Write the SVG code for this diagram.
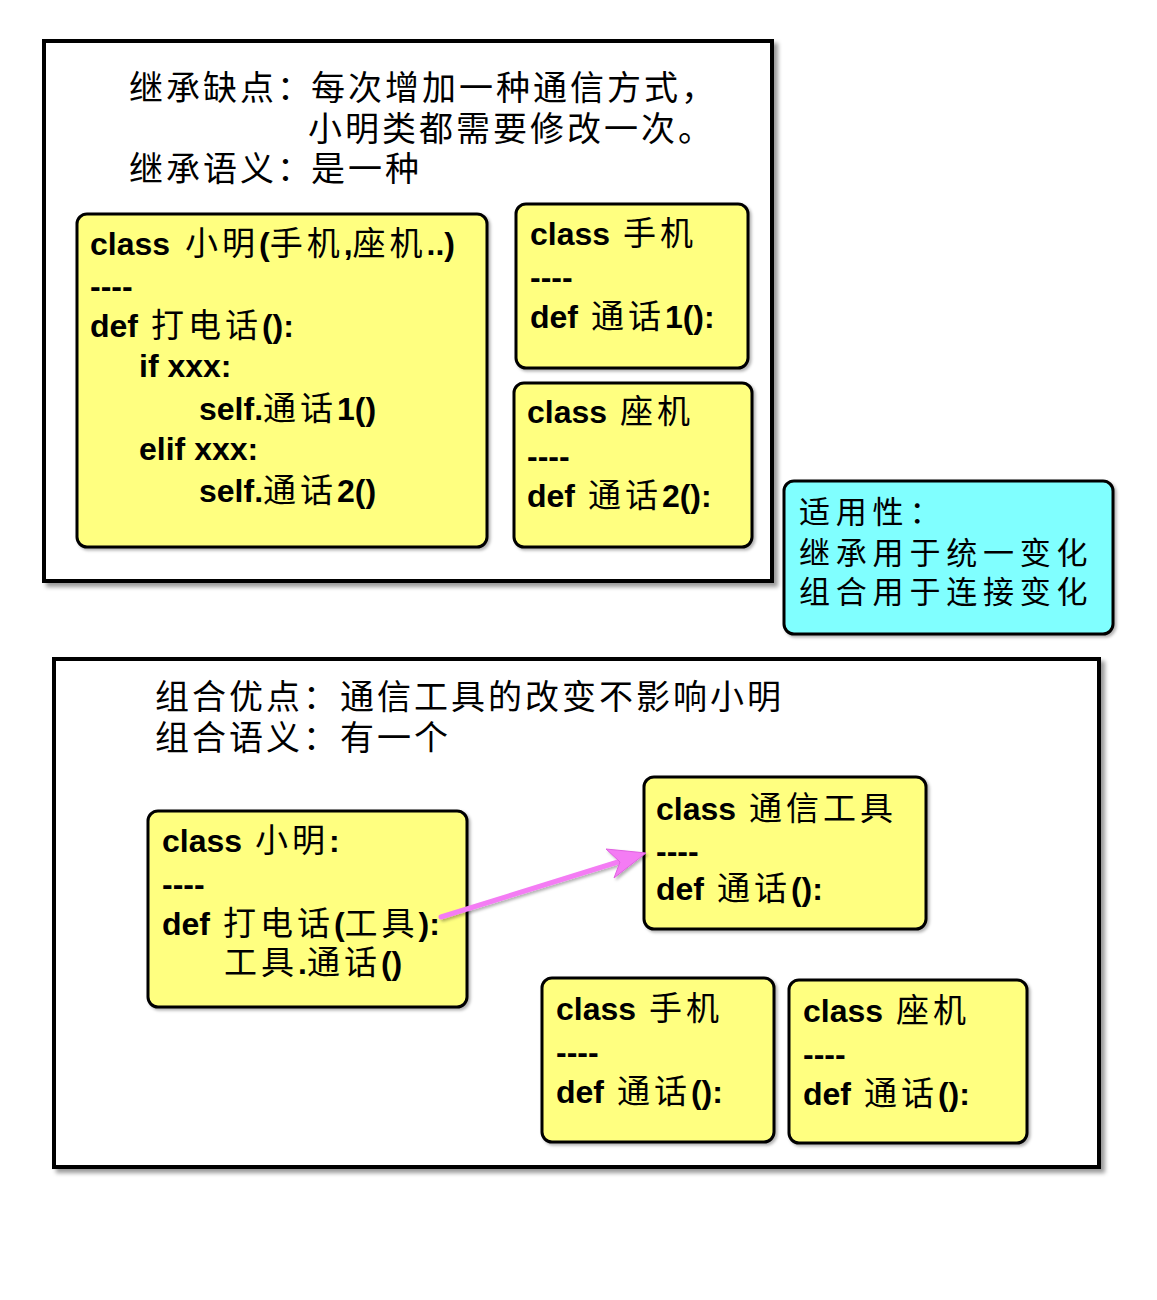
<svg xmlns="http://www.w3.org/2000/svg" width="1157" height="1300" viewBox="0 0 1157 1300">
<defs>
<style>
.frame{fill:#fff;stroke:#000;stroke-width:4}
.box{fill:#FFFF80;stroke:#000;stroke-width:3}
.cyan{fill:#80FFFF;stroke:#000;stroke-width:3}
text{fill:#000}
.t{font-family:"Liberation Sans",Arial,sans-serif;font-weight:bold;font-size:32px}
.k{font-family:"Noto Sans CJK SC","Noto Sans CJK JP",sans-serif;font-weight:normal;font-size:33px;letter-spacing:4px}
.h{font-family:"Noto Sans CJK SC","Noto Sans CJK JP",sans-serif;font-weight:normal;font-size:34px;letter-spacing:3px}
.c{font-family:"Noto Sans CJK SC","Noto Sans CJK JP",sans-serif;font-weight:normal;font-size:31px;letter-spacing:5.8px}
</style>
<filter id="sh" x="-5%" y="-5%" width="115%" height="115%">
<feDropShadow dx="4" dy="4" stdDeviation="2" flood-color="#000" flood-opacity="0.4"/>
</filter>
<filter id="sh2" x="-5%" y="-5%" width="115%" height="115%">
<feDropShadow dx="2" dy="2" stdDeviation="1.5" flood-color="#000" flood-opacity="0.3"/>
</filter>
</defs>

<g id="frame-inherit">
<rect class="frame" x="44" y="41" width="728" height="540" filter="url(#sh)"/>
<text class="h" x="129" y="100">继承缺点：</text>
<text class="h" x="311" y="100">每次增加一种通信方式，</text>
<text class="h" x="308" y="141">小明类都需要修改一次。</text>
<text class="h" x="129" y="181">继承语义：</text>
<text class="h" x="311" y="181">是一种</text>
</g>

<g id="node-xiaoming-inherit">
<rect class="box" x="77" y="214" width="410" height="333" rx="10" filter="url(#sh2)"/>
<text class="t" x="90" y="255">class <tspan class="k" dx="6">小明</tspan>(<tspan class="k">手机</tspan>,<tspan class="k">座机</tspan>..)</text>
<text class="t" x="90" y="297">----</text>
<text class="t" x="90" y="337">def <tspan class="k" dx="4">打电话</tspan>():</text>
<text class="t" x="139" y="377">if xxx:</text>
<text class="t" x="199" y="420">self.<tspan class="k">通话</tspan>1()</text>
<text class="t" x="139" y="460">elif xxx:</text>
<text class="t" x="199" y="502">self.<tspan class="k">通话</tspan>2()</text>
</g>

<g id="node-phone-inherit">
<rect class="box" x="516" y="204" width="232" height="164" rx="10" filter="url(#sh2)"/>
<text class="t" x="530" y="245">class <tspan class="k" dx="4">手机</tspan></text>
<text class="t" x="530" y="288">----</text>
<text class="t" x="530" y="328">def <tspan class="k" dx="4">通话</tspan>1():</text>
</g>

<g id="node-landline-inherit">
<rect class="box" x="514" y="383" width="238" height="164" rx="10" filter="url(#sh2)"/>
<text class="t" x="527" y="423">class <tspan class="k" dx="4">座机</tspan></text>
<text class="t" x="527" y="467">----</text>
<text class="t" x="527" y="507">def <tspan class="k" dx="4">通话</tspan>2():</text>
</g>

<g id="node-applicability">
<rect class="cyan" x="784" y="481" width="329" height="153" rx="10" filter="url(#sh2)"/>
<text class="c" x="799" y="523">适用性：</text>
<text class="c" x="799" y="564">继承用于统一变化</text>
<text class="c" x="799" y="603">组合用于连接变化</text>
</g>

<g id="frame-compose">
<rect class="frame" x="54" y="659" width="1045" height="508" filter="url(#sh)"/>
<text class="h" x="155" y="709">组合优点：</text>
<text class="h" x="340" y="709">通信工具的改变不影响小明</text>
<text class="h" x="155" y="750">组合语义：</text>
<text class="h" x="340" y="750">有一个</text>
</g>

<g id="node-xiaoming-compose">
<rect class="box" x="148" y="811" width="319" height="196" rx="10" filter="url(#sh2)"/>
<text class="t" x="162" y="852">class <tspan class="k" dx="4">小明</tspan>:</text>
<text class="t" x="162" y="895">----</text>
<text class="t" x="162" y="935">def <tspan class="k" dx="4">打电话</tspan>(<tspan class="k">工具</tspan>):</text>
<text class="t" x="224" y="974"><tspan class="k">工具</tspan>.<tspan class="k">通话</tspan>()</text>
</g>

<g id="node-tool">
<rect class="box" x="644" y="777" width="282" height="152" rx="10" filter="url(#sh2)"/>
<text class="t" x="656" y="820">class <tspan class="k" dx="4">通信工具</tspan></text>
<text class="t" x="656" y="862">----</text>
<text class="t" x="656" y="900">def <tspan class="k" dx="4">通话</tspan>():</text>
</g>

<g id="node-phone-compose">
<rect class="box" x="542" y="978" width="232" height="164" rx="10" filter="url(#sh2)"/>
<text class="t" x="556" y="1020">class <tspan class="k" dx="4">手机</tspan></text>
<text class="t" x="556" y="1063">----</text>
<text class="t" x="556" y="1103">def <tspan class="k" dx="4">通话</tspan>():</text>
</g>

<g id="node-landline-compose">
<rect class="box" x="789" y="980" width="238" height="163" rx="10" filter="url(#sh2)"/>
<text class="t" x="803" y="1022">class <tspan class="k" dx="4">座机</tspan></text>
<text class="t" x="803" y="1065">----</text>
<text class="t" x="803" y="1105">def <tspan class="k" dx="4">通话</tspan>():</text>
</g>

<g id="connectors" filter="url(#sh2)">
<line x1="441" y1="917" x2="618" y2="862" stroke="#F47CF4" stroke-width="5" stroke-linecap="round"/>
<polygon points="646,853 614,878 620,862 606,849" fill="#F47CF4" stroke="#E060E0" stroke-width="1"/>
</g>
</svg>
